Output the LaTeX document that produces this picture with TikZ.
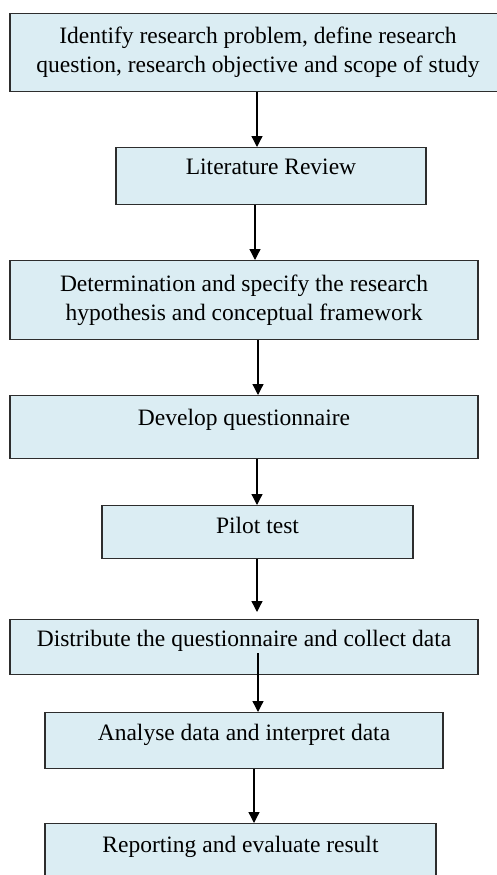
\documentclass[tikz,border=0pt]{standalone}
\usepackage{fontspec}
\setmainfont{Liberation Serif}
\usetikzlibrary{arrows.meta}
\definecolor{stagefill}{RGB}{219,237,243}
\definecolor{stageline}{RGB}{45,45,45}

\begin{document}
\begin{tikzpicture}[x=1pt, y=-1pt,
    stage/.style={draw=stageline, line width=1.3pt, fill=stagefill, anchor=north,
      inner xsep=4pt, inner ysep=0pt, align=center, font=\fontsize{23.5}{29}\selectfont},
    flow/.style={line width=1.3pt, -{Triangle[length=11pt, width=11pt]}}]
  \useasboundingbox (0,0) rectangle (496,875);
  % the stages, top to bottom
  \node[stage, minimum width=496pt, minimum height=78pt] (prob) at (258,13)
    {Identify research problem, define research\\question, research objective and scope of study};
  \node[stage, minimum width=310pt, text height=27pt, text depth=30pt] (lit) at (271,147)
    {Literature Review};
  \node[stage, minimum width=468pt, minimum height=79pt] (hyp) at (244,260)
    {Determination and specify the research\\hypothesis and conceptual  framework};
  \node[stage, minimum width=468pt, text height=30pt, text depth=33pt] (quest) at (244,395)
    {Develop questionnaire};
  \node[stage, minimum width=311pt, text height=28pt, text depth=25pt] (pilot) at (257.5,505)
    {Pilot test};
  \node[stage, minimum width=468pt, text height=27pt, text depth=28pt] (dist) at (244,619)
    {Distribute the questionnaire and collect data};
  \node[stage, minimum width=398pt, text height=28pt, text depth=28pt] (ana) at (244,712)
    {Analyse data and interpret data};
  \node[stage, minimum width=391pt, text height=29pt, text depth=30pt] (rep) at (240.5,823)
    {Reporting and evaluate result};
  % arrows between the stages
  \foreach \a/\b/\x in {prob/lit/257, lit/hyp/255, hyp/quest/258, quest/pilot/257, ana/rep/254} {
    \coordinate (ax) at (\x,0);
    \draw[flow] (\a.south -| ax) -- (\b.north -| ax);
  }
  % this one stops short of the box
  \coordinate (pilotend) at (257,612);
  \draw[flow] (pilot.south -| pilotend) -- (pilotend);
  % and this one starts inside the box
  \coordinate (diststart) at (258,653);
  \draw[flow] (diststart) -- (diststart |- ana.north);
\end{tikzpicture}
\end{document}
